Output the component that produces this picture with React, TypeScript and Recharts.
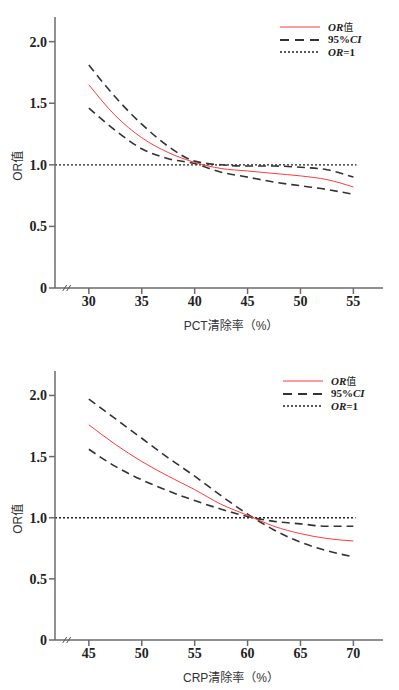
import React from 'react';
import { LineChart, Line, XAxis, YAxis, ReferenceLine, ReferenceDot } from 'recharts';

// PCT clearance rate (%) panel
const pctX = [30, 32.5, 35, 37.5, 40, 42.5, 45, 47.5, 50, 52.5, 55];
const pctOR = [1.65, 1.40, 1.22, 1.10, 1.02, 0.97, 0.95, 0.93, 0.91, 0.88, 0.82];
const pctUpper = [1.81, 1.55, 1.33, 1.15, 1.03, 1.0, 0.99, 0.99, 0.98, 0.96, 0.90];
const pctLower = [1.46, 1.28, 1.13, 1.05, 1.01, 0.94, 0.90, 0.86, 0.83, 0.80, 0.76];
const pctTicks = [30, 35, 40, 45, 50, 55];

// CRP clearance rate (%) panel
const crpX = [45, 47.5, 50, 52.5, 55, 57.5, 60, 62.5, 65, 67.5, 70];
const crpOR = [1.76, 1.60, 1.46, 1.34, 1.23, 1.11, 1.02, 0.93, 0.87, 0.83, 0.81];
const crpUpper = [1.97, 1.81, 1.65, 1.49, 1.34, 1.18, 1.03, 0.90, 0.80, 0.73, 0.68];
const crpLower = [1.56, 1.42, 1.31, 1.22, 1.14, 1.07, 1.01, 0.97, 0.95, 0.93, 0.93];
const crpTicks = [45, 50, 55, 60, 65, 70];

const yTicks = [0, 0.5, 1, 1.5, 2];

const SERIF = '"Liberation Serif", "Times New Roman", serif';
const SANS = '"Liberation Sans", Arial, "Noto Sans CJK SC", sans-serif';
const AXIS = '#6b6b6b';

const tickStyle = { fontFamily: SERIF, fontWeight: 'bold', fontSize: 14, fill: '#222' };

const legendRow: React.CSSProperties = { display: 'flex', alignItems: 'center', height: 12.5, overflow: 'visible' };
const legendText: React.CSSProperties = {
  fontFamily: SERIF,
  fontSize: 11,
  fontWeight: 'bold',
  color: '#222',
  marginLeft: 8,
  lineHeight: '11px',
  whiteSpace: 'nowrap',
};

const Swatch = ({ color, width, dash }: { color: string; width: number; dash?: string }) => (
  <svg width={40} height={6} style={{ display: 'block' }}>
    <line x1={0} y1={3} x2={40} y2={3} stroke={color} strokeWidth={width} strokeDasharray={dash} />
  </svg>
);

const LegendBox = ({ left, top }: { left: number; top: number }) => (
  <div style={{ position: 'absolute', left, top }}>
    <div style={legendRow}>
      <Swatch color="#ff3b3b" width={1.2} />
      <span style={legendText}>
        <i>OR</i>
        <span style={{ fontFamily: '"Noto Sans CJK SC"', fontWeight: 'normal', fontSize: 10 }}>值</span>
      </span>
    </div>
    <div style={legendRow}>
      <Swatch color="#333" width={2} dash="9 6" />
      <span style={legendText}>
        95%<i>CI</i>
      </span>
    </div>
    <div style={legendRow}>
      <Swatch color="#222" width={1.3} dash="2 2" />
      <span style={legendText}>
        <i>OR</i>=1
      </span>
    </div>
  </div>
);

const BreakMark = (props: any) => {
  const { cx, cy } = props;
  return (
    <g stroke="#555" strokeWidth={1}>
      <line x1={cx - 5} y1={cy + 3} x2={cx - 1} y2={cy - 3} />
      <line x1={cx - 1} y1={cy + 3} x2={cx + 3} y2={cy - 3} />
    </g>
  );
};

const YTitle = (props: any) => {
  const { viewBox } = props;
  const x = viewBox.x + 8;
  const y = viewBox.y + viewBox.height * (1 - 1 / 2.2) + 1;
  return (
    <text
      x={x}
      y={y}
      transform={`rotate(-90, ${x}, ${y})`}
      textAnchor="middle"
      dominantBaseline="central"
      fontFamily={SANS}
      fontSize={12}
      fill="#333"
    >
      OR值
    </text>
  );
};

interface PanelProps {
  xs: number[];
  or: number[];
  hi: number[];
  lo: number[];
  ticks: number[];
  domain: [number, number];
  breakAt: number;
  refEnd: number;
  xLabel: string;
  top: number;
  bottom: number;
  legendLeft: number;
  legendTop: number;
}

const Panel = (p: PanelProps) => {
  const data = p.xs.map((x, i) => ({ x, or: p.or[i], hi: p.hi[i], lo: p.lo[i] }));
  return (
    <div style={{ position: 'relative', width: 399, height: 345 }}>
      <LineChart width={399} height={345} data={data} margin={{ top: p.top, right: 16, bottom: p.bottom, left: 10 }}>
        <XAxis
          type="number"
          dataKey="x"
          domain={p.domain}
          ticks={p.ticks}
          allowDataOverflow
          height={45}
          stroke={AXIS}
          strokeWidth={1.5}
          tickSize={6}
          tickMargin={2}
          tick={tickStyle}
          label={{ value: p.xLabel, position: 'insideBottom', offset: 3, dx: 12, fontFamily: SANS, fontSize: 12, fill: '#333' }}
        />
        <YAxis
          type="number"
          domain={[0, 2.2]}
          ticks={yTicks}
          allowDataOverflow
          width={45}
          stroke={AXIS}
          strokeWidth={1.5}
          tickSize={6}
          tickMargin={2}
          tick={tickStyle}
          tickFormatter={(v: number) => (v === 0 ? '0' : v.toFixed(1))}
          label={<YTitle />}
        />
        <ReferenceLine
          segment={[{ x: p.domain[0], y: 1 }, { x: p.refEnd, y: 1 }]}
          stroke="#222"
          strokeWidth={1.3}
          strokeDasharray="2 2"
          ifOverflow="visible"
        />
        <Line type="monotone" dataKey="hi" stroke="#333" strokeWidth={1.6} strokeDasharray="8 5" dot={false} isAnimationActive={false} />
        <Line type="monotone" dataKey="lo" stroke="#333" strokeWidth={1.6} strokeDasharray="8 5" dot={false} isAnimationActive={false} />
        <Line type="monotone" dataKey="or" stroke="#ff3b3b" strokeWidth={1} dot={false} isAnimationActive={false} />
        <ReferenceDot x={p.breakAt} y={0} r={0} ifOverflow="visible" shape={<BreakMark />} />
      </LineChart>
      <LegendBox left={p.legendLeft} top={p.legendTop} />
    </div>
  );
};

export default function App() {
  return (
    <div style={{ position: 'absolute', left: 0, top: 0, width: 399, height: 690, background: '#fff' }}>
      <Panel
        xs={pctX}
        or={pctOR}
        hi={pctUpper}
        lo={pctLower}
        ticks={pctTicks}
        domain={[26.8, 57.8]}
        breakAt={28}
        refEnd={55.3}
        xLabel="PCT清除率（%）"
        top={17}
        bottom={12}
        legendLeft={280}
        legendTop={21}
      />
      <Panel
        xs={crpX}
        or={crpOR}
        hi={crpUpper}
        lo={crpLower}
        ticks={crpTicks}
        domain={[41.8, 72.8]}
        breakAt={43}
        refEnd={70.2}
        xLabel="CRP清除率（%）"
        top={26}
        bottom={5}
        legendLeft={283}
        legendTop={30}
      />
    </div>
  );
}
